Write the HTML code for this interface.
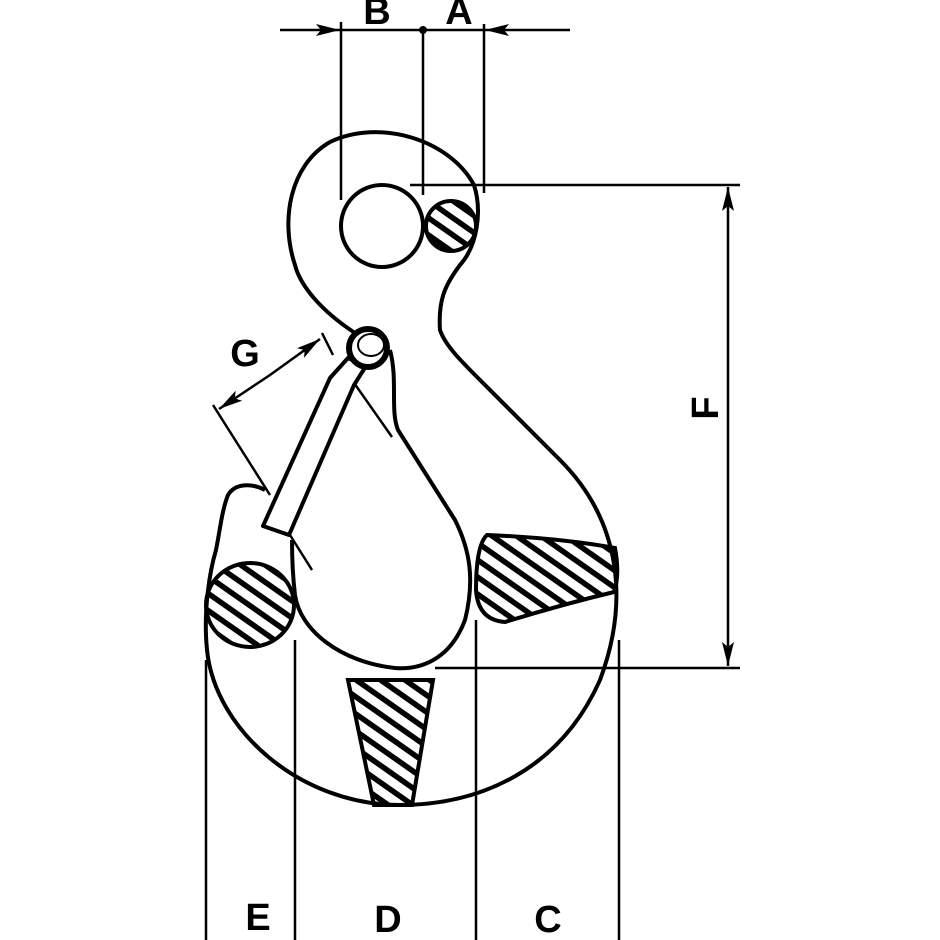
<!DOCTYPE html>
<html><head><style>html,body{margin:0;padding:0;background:#fff}svg{display:block}</style></head>
<body>
<svg width="940" height="940" viewBox="0 0 940 940" xmlns="http://www.w3.org/2000/svg">
<defs>
<pattern id="h" patternUnits="userSpaceOnUse" width="14" height="14" patternTransform="rotate(35)">
<rect width="14" height="14" fill="#fff"/><rect width="14" height="5.5" fill="#000"/>
</pattern>
<marker id="ar" viewBox="0 0 24 12" refX="24" refY="6" markerWidth="24" markerHeight="12" markerUnits="userSpaceOnUse" orient="auto">
<path d="M0,0 L24,6 L0,12 L5,6 Z" fill="#000"/></marker>
</defs>
<g fill="none" stroke="#000" stroke-width="2.5">
<line x1="280" y1="30" x2="340" y2="30" marker-end="url(#ar)"/>
<line x1="340" y1="30" x2="485" y2="30"/>
<line x1="570" y1="30" x2="485" y2="30" marker-end="url(#ar)"/>
<line x1="341" y1="22" x2="341" y2="200"/>
<line x1="423" y1="30" x2="423" y2="195"/>
<line x1="484" y1="24" x2="484" y2="193"/>
<line x1="410" y1="185" x2="740" y2="185"/>
<line x1="435" y1="668" x2="740" y2="668"/>
<line x1="728" y1="420" x2="728" y2="187" marker-end="url(#ar)"/>
<line x1="728" y1="420" x2="728" y2="666" marker-end="url(#ar)"/>
<line x1="206" y1="660" x2="206" y2="940"/>
<line x1="295" y1="640" x2="295" y2="940"/>
<line x1="476" y1="620" x2="476" y2="940"/>
<line x1="619" y1="640" x2="619" y2="940"/>
<line x1="270" y1="375" x2="320" y2="339" marker-end="url(#ar)"/>
<line x1="270" y1="375" x2="219" y2="409" marker-end="url(#ar)"/>
<line x1="213" y1="405" x2="270" y2="495"/>
<line x1="322" y1="333" x2="333" y2="355"/>
<line x1="352" y1="380" x2="392" y2="437"/>
<line x1="290" y1="535" x2="312" y2="570"/>
</g>
<circle cx="423" cy="30" r="4" fill="#000"/>
<g stroke="#000" stroke-width="4">
<circle cx="451" cy="226" r="25" fill="url(#h)"/>
<ellipse cx="250" cy="605" rx="44" ry="42" fill="url(#h)"/>
<path d="M487,535 Q560,538 615,548 Q620,575 614,592 Q560,605 505,622 Q478,620 476,590 Q476,545 487,535 Z" fill="url(#h)"/>
<path d="M348,680 L433,680 L412,805 L374,805 Z" fill="url(#h)"/>
</g>
<g fill="none" stroke="#000" stroke-width="4" stroke-linejoin="round">
<circle cx="382" cy="226" r="41"/>
<path d="M355,333 C320,310 300,285 295,265 C280,220 290,165 330,142 C380,118 450,140 474,185 C482,210 478,245 460,265 C445,285 438,300 440,330 C445,345 460,360 480,380 L560,460 C620,520 630,600 600,680 C560,770 480,805 400,805 C300,805 215,730 207,650 C203,610 210,570 216,550 C220,530 222,510 228,495 C235,483 252,483 265,490"/>
<path d="M390,350 C398,380 390,410 398,430 L455,520 C470,550 475,580 465,620 C450,660 420,670 395,668 C340,662 300,630 295,595 C292,570 292,550 292,540"/>
<path d="M330,378 L263,526 L289,535 L354,385 L366,366 L348,358 Z" fill="#fff"/>
<circle cx="368" cy="348" r="19" fill="#fff" stroke-width="6"/>
</g>
<ellipse cx="371" cy="345" rx="13" ry="11" fill="#fff" stroke="#000" stroke-width="2"/>
<g font-family="Liberation Sans, sans-serif" font-weight="bold" font-size="38" fill="#000" text-anchor="middle">
<text x="377" y="24">B</text>
<text x="459" y="24">A</text>
<text x="245" y="366">G</text>
<text x="258" y="930">E</text>
<text x="388" y="932">D</text>
<text x="548" y="932">C</text>
<text transform="translate(718,408) rotate(-90)">F</text>
</g>
</svg>
</body></html>
